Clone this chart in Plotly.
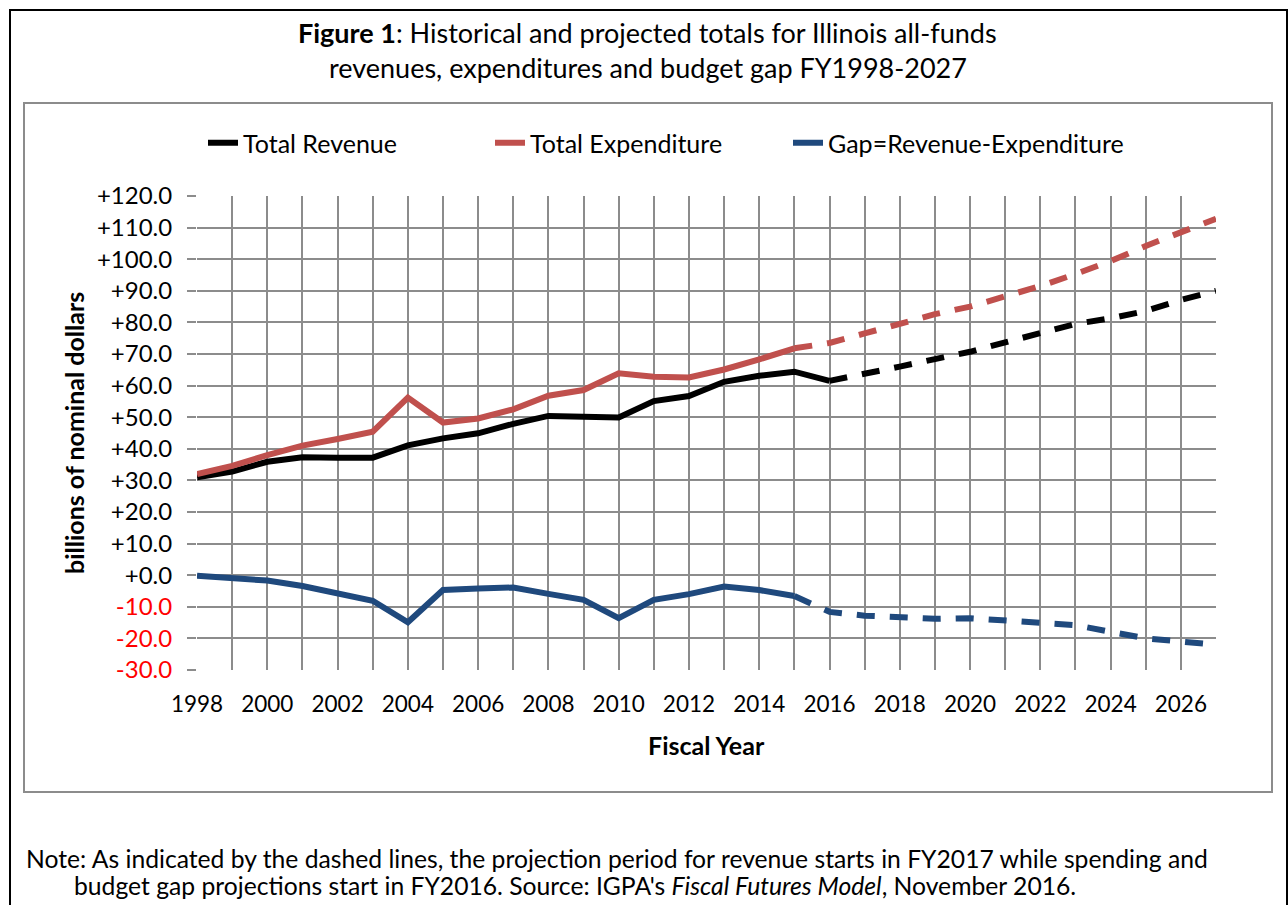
import plotly.graph_objects as go

# ---------------- data ----------------
years = list(range(1998, 2028))

revenue = [31.0, 32.8, 35.9, 37.3, 37.2, 37.2, 41.1, 43.3, 44.9, 47.9,
           50.4, 50.2, 49.9, 55.1, 56.7, 61.2, 63.1, 64.4, 61.5, 63.6,
           66.0, 68.4, 70.7, 73.7, 76.5, 79.5, 81.3, 83.6, 87.1, 90.0]
expenditure = [32.0, 34.6, 38.0, 41.0, 43.1, 45.4, 56.2, 48.3, 49.6, 52.5,
               56.8, 58.6, 63.9, 62.8, 62.6, 65.1, 68.3, 71.8, 73.5, 76.5,
               79.5, 82.6, 85.0, 88.1, 91.5, 95.3, 99.4, 104.2, 108.7, 112.8]
gap = [-0.2, -1.0, -1.7, -3.4, -5.7, -8.1, -14.9, -4.7, -4.2, -3.9,
       -5.9, -7.8, -13.6, -7.8, -6.0, -3.6, -4.7, -6.6, -11.6, -12.8,
       -13.4, -13.8, -13.6, -14.2, -14.9, -15.8, -17.9, -20.0, -21.0, -22.0]

revenue_last_actual = 2016      # revenue projection starts FY2017
spending_last_actual = 2015     # spending & gap projections start FY2016

series_names = ["Total Revenue", "Total Expenditure", "Gap=Revenue-Expenditure"]

x_tick_vals = list(range(1998, 2027))
x_tick_labels = ["1998", "", "2000", "", "2002", "", "2004", "", "2006", "", "2008", "",
                 "2010", "", "2012", "", "2014", "", "2016", "", "2018", "", "2020", "",
                 "2022", "", "2024", "", "2026"]
y_tick_vals = [-30, -20, -10, 0, 10, 20, 30, 40, 50, 60, 70, 80, 90, 100, 110, 120]
y_tick_labels = ["<span style='color:#FF0000'>-30.0</span>",
                 "<span style='color:#FF0000'>-20.0</span>",
                 "<span style='color:#FF0000'>-10.0</span>",
                 "+0.0", "+10.0", "+20.0", "+30.0", "+40.0", "+50.0", "+60.0",
                 "+70.0", "+80.0", "+90.0", "+100.0", "+110.0", "+120.0"]

# ---------------- styling ----------------
W, H = 1288, 905
FONT = "Lato"
colors = ["#000000", "#C0504D", "#1F497D"]
grid_col = "#8C8C8C"
LW = 6
DASH = "18px,15px"


def px(x):
    return x / W


def py(y):
    return 1 - y / H


def split(xs, ys, last_actual):
    hx = [x for x in xs if x <= last_actual]
    hy = [v for x, v in zip(xs, ys) if x <= last_actual]
    fx = [x for x in xs if x >= last_actual]
    fy = [v for x, v in zip(xs, ys) if x >= last_actual]
    return hx, hy, fx, fy


fig = go.Figure()
legend_ids = ["legend", "legend2", "legend3"]
all_series = [(revenue, revenue_last_actual),
              (expenditure, spending_last_actual),
              (gap, spending_last_actual)]
for i, (vals, last) in enumerate(all_series):
    hx, hy, fx, fy = split(years, vals, last)
    fig.add_trace(go.Scatter(x=fx, y=fy, mode="lines", showlegend=False,
                             line=dict(color=colors[i], width=LW, dash=DASH),
                             hoverinfo="skip"))
    fig.add_trace(go.Scatter(x=hx, y=hy, mode="lines", name=series_names[i],
                             legend=legend_ids[i],
                             line=dict(color=colors[i], width=LW)))

# plot area in pixels
PL, PR, PT, PB = 197, 1216, 196, 670

legend_text_starts = [243, 530, 828]
legend_common = dict(orientation="h", yanchor="middle", xanchor="left",
                     font=dict(family=FONT, size=25, color="#000000"),
                     bgcolor="rgba(0,0,0,0)", borderwidth=0)

layout_legends = {}
for lid, xs in zip(legend_ids, legend_text_starts):
    layout_legends[lid] = dict(x=px(xs - 40), y=py(143), **legend_common)

fig.update_layout(
    width=W, height=H,
    margin=dict(l=0, r=0, t=0, b=0),
    paper_bgcolor="white", plot_bgcolor="white",
    font=dict(family=FONT, size=22, color="#000000"),
    xaxis=dict(domain=[px(PL), px(PR)], range=[1997.999, 2027],
               tickvals=x_tick_vals, ticktext=x_tick_labels,
               showgrid=True, gridcolor=grid_col, gridwidth=1.6,
               zeroline=False, showline=False, ticks="",
               tickfont=dict(family=FONT, size=22.5, color="#000000"),
               ticklabelstandoff=18, automargin=False, fixedrange=True),
    yaxis=dict(domain=[py(PB), py(PT)], range=[-30, 120],
               tickvals=y_tick_vals, ticktext=y_tick_labels,
               showgrid=True, gridcolor=grid_col, gridwidth=1.6,
               zeroline=False, showline=False,
               ticks="outside", ticklen=9, tickcolor=grid_col, tickwidth=1.6,
               tickfont=dict(family=FONT, size=24, color="#000000"),
               ticklabelstandoff=10, automargin=False, fixedrange=True),
    **layout_legends,
)

shapes = [
    dict(type="rect", xref="paper", yref="paper",
         x0=px(10), x1=px(1287), y0=py(10), y1=-0.05,
         line=dict(color="#000000", width=2), fillcolor="rgba(0,0,0,0)", layer="below"),
    dict(type="rect", xref="paper", yref="paper",
         x0=px(24), x1=px(1272), y0=py(103), y1=py(792),
         line=dict(color="#8C8C8C", width=2), fillcolor="rgba(0,0,0,0)", layer="below"),
]
fig.update_layout(shapes=shapes)

annotations = [
    dict(text="<b>Figure 1</b>: Historical and projected totals for Illinois all-funds",
         x=px(648), y=py(33), font=dict(family=FONT, size=27)),
    dict(text="revenues, expenditures and budget gap FY1998-2027",
         x=px(648), y=py(68), font=dict(family=FONT, size=27)),
    dict(text="<b>billions of nominal dollars</b>", textangle=-90,
         x=px(74), y=py(433), font=dict(family=FONT, size=25)),
    dict(text="<b>Fiscal Year</b>", x=px(706), y=py(745), font=dict(family=FONT, size=25)),
    dict(text="Note: As indicated by the dashed lines, the projection period for revenue "
              "starts in FY2017 while spending and",
         x=px(24), y=py(858), xanchor="left", font=dict(family=FONT, size=24.7)),
    dict(text="budget gap projections start in FY2016. Source: IGPA's "
              "<i>Fiscal Futures Model</i>, November 2016.",
         x=px(72), y=py(885), xanchor="left", font=dict(family=FONT, size=24.7)),
]
for a in annotations:
    a.setdefault("xanchor", "center")
    a.update(xref="paper", yref="paper", yanchor="middle", showarrow=False)
    a["font"]["color"] = "#000000"
fig.update_layout(annotations=annotations)

fig.write_html("out.html", config={"displayModeBar": False},
               post_script="document.body.style.margin='0';")
